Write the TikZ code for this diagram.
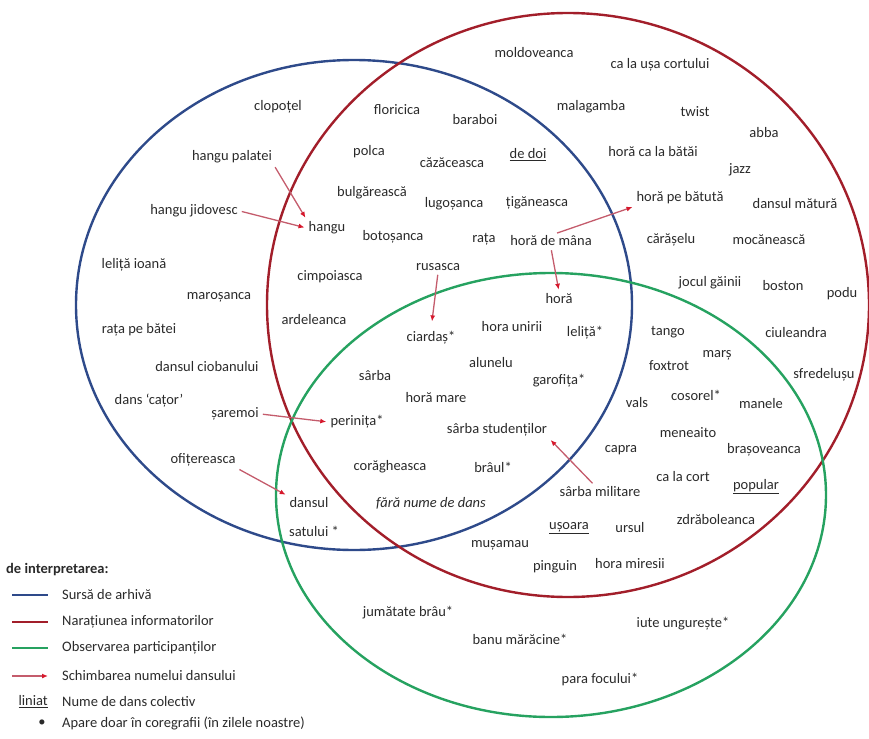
\documentclass[tikz,border=0pt]{standalone}
\usepackage{fontspec}
\setmainfont{Carlito}
\usetikzlibrary{positioning, arrows.meta, calc}
\definecolor{arhiva}{RGB}{46,74,138}
\definecolor{narat}{RGB}{162,30,42}
\definecolor{observ}{RGB}{38,162,96}
\definecolor{schimb}{RGB}{196,92,108}
\definecolor{schimbhead}{RGB}{214,24,44}
\definecolor{textgrey}{RGB}{42,42,42}

\begin{document}
\begin{tikzpicture}[x=1pt, y=-1pt,
    dance/.style={text=textgrey, font=\fontsize{14.5}{16}\selectfont, inner sep=2pt},
    nodance/.style={dance, font=\fontsize{14.5}{16}\selectfont\itshape},
    legendtext/.style={dance, anchor=west},
    arhivaset/.style={draw=arhiva, line width=2.4pt},
    naratset/.style={draw=narat, line width=2.4pt},
    observset/.style={draw=observ, line width=2.4pt},
    rename/.style={draw=schimb, line width=1.3pt, -{Latex[length=6pt, width=5pt, color=schimbhead]}, shorten <=2pt, shorten >=2pt},
]
\useasboundingbox (0,0) rectangle (869,738);

% Sources
\draw[arhivaset] (354,305) ellipse [x radius=278pt, y radius=245pt];
\draw[naratset] (568,305) ellipse [x radius=301pt, y radius=292pt];
\draw[observset] (551,495) ellipse [x radius=275pt, y radius=222pt];

% Archive only
\node[dance] (clopotel) at (278,107) {clopoțel};
\node[dance] (hanguPalatei) at (232,157) {hangu palatei};
\node[dance] (hanguJidovesc) at (194,211) {hangu jidovesc};
\node[dance] (lelitaIoana) at (134,265) {leliță ioană};
\node[dance] (marosanca) at (219,297) {maroșanca};
\node[dance] (rataPeBatei) at (139,330) {rața pe bătei};
\node[dance] (dansulCiobanului) at (207,367) {dansul ciobanului};
\node[dance] (dansCator) at (149,401) {dans ‘cațor’};
\node[dance] (saremoi) at (235,414) {șaremoi};
\node[dance] (ofitereasca) at (203,460) {ofițereasca};

% Archive and informants
\node[dance] (floricica) at (397,110) {floricica};
\node[dance] (baraboi) at (475,120) {baraboi};
\node[dance] (polca) at (369,152) {polca};
\node[dance] (cazaceasca) at (452,163) {căzăceasca};
\node[dance] (deDoi) at (528,155) {\underline{de doi}};
\node[dance] (bulgareasca) at (372,193) {bulgărească};
\node[dance] (lugosanca) at (454,204) {lugoșanca};
\node[dance] (tiganeasca) at (537,203) {țigăneasca};
\node[dance] (hangu) at (327,228) {hangu};
\node[dance] (botosanca) at (393,237) {botoșanca};
\node[dance] (rata) at (484,239) {rața};
\node[dance] (horaDeMana) at (551,241) {horă de mâna};
\node[dance] (cimpoiasca) at (330,277) {cimpoiasca};
\node[dance] (rusasca) at (438,267) {rusasca};
\node[dance] (ardeleanca) at (314,320) {ardeleanca};

% Informants only
\node[dance] (moldoveanca) at (534,53) {moldoveanca};
\node[dance] (caLaUsa) at (660,65) {ca la ușa cortului};
\node[dance] (malagamba) at (591,107) {malagamba};
\node[dance] (twist) at (695,112) {twist};
\node[dance] (abba) at (764,133) {abba};
\node[dance] (horaCaLaBatai) at (653,152) {horă ca la bătăi};
\node[dance] (jazz) at (740,170) {jazz};
\node[dance] (horaPeBatuta) at (680,198) {horă pe bătută};
\node[dance] (dansulMatura) at (795,204) {dansul mătură};
\node[dance] (caraselu) at (671,240) {cărășelu};
\node[dance] (mocaneasca) at (769,240) {mocănească};
\node[dance] (joculGainii) at (710,283) {jocul găinii};
\node[dance] (boston) at (783,286) {boston};
\node[dance] (podu) at (842,294) {podu};
\node[dance] (ciuleandra) at (796,333) {ciuleandra};
\node[dance] (sfredelusu) at (824,375) {sfredelușu};

% All three
\node[dance] (hora) at (559,299) {horă};
\node[dance] (ciardas) at (431,338) {ciardaș*};
\node[dance] (horaUnirii) at (512,327) {hora unirii};
\node[dance] (lelita) at (585,333) {leliță*};
\node[dance] (alunelu) at (491,363) {alunelu};
\node[dance] (sarba) at (375,376) {sârba};
\node[dance] (garofita) at (559,381) {garofița*};
\node[dance] (horaMare) at (436,398) {horă mare};
\node[dance] (perinita) at (357,422) {perinița*};
\node[dance] (sarbaStudentilor) at (497,430) {sârba studenților};
\node[dance] (coragheasca) at (390,467) {corăgheasca};
\node[dance] (braul) at (493,467) {brâul*};
\node[nodance] (faraNume) at (431,503) {fără nume de dans};
\node[dance] (dansul) at (309,503) {dansul};
\node[dance] (satului) at (314,531) {satului *};

% Informants and observation
\node[dance] (tango) at (668,332) {tango};
\node[dance] (mars) at (717,355) {marș};
\node[dance] (foxtrot) at (669,366) {foxtrot};
\node[dance] (vals) at (637,403) {vals};
\node[dance] (cosorel) at (696,395) {cosorel*};
\node[dance] (manele) at (761,404) {manele};
\node[dance] (meneaito) at (688,433) {meneaito};
\node[dance] (capra) at (621,450) {capra};
\node[dance] (brasoveanca) at (764,450) {brașoveanca};
\node[dance] (caLaCort) at (683,477) {ca la cort};
\node[dance] (popular) at (756,487) {\underline{popular}};
\node[dance] (sarbaMilitare) at (600,492) {sârba militare};
\node[dance] (zdraboleanca) at (716,520) {zdrăboleanca};
\node[dance] (usoara) at (569,528) {\underline{ușoara}};
\node[dance] (ursul) at (630,528) {ursul};
\node[dance] (musamau) at (500,545) {mușamau};
\node[dance] (pinguin) at (555,567) {pinguin};
\node[dance] (horaMiresii) at (630,564) {hora miresii};

% Observation only
\node[dance] (jumatateBrau) at (408,613) {jumătate brâu*};
\node[dance] (banuMaracine) at (520,639) {banu mărăcine*};
\node[dance] (iuteUngureste) at (683,624) {iute ungurește*};
\node[dance] (paraFocului) at (600,680) {para focului*};

% Name changes
\draw[rename] (hanguPalatei.south east) -- (hangu.north west);
\draw[rename] (hanguJidovesc.east) -- (hangu.west);
\draw[rename] (horaDeMana.60) -- (horaPeBatuta.south west);
\draw[rename] (horaDeMana.south) -- (hora.north);
\draw[rename, shorten >=8pt] (rusasca.south) -- (ciardas.north);
\draw[rename] (saremoi.east) -- (perinita.west);
\draw[rename] (ofitereasca.south east) -- (dansul.north west);
\draw[rename] (sarbaMilitare.130) -- (sarbaStudentilor.south east);

% Legend
\node[legendtext, font=\fontsize{14.5}{16}\selectfont\bfseries] (legTitle) at (4,570) {de interpretarea:};
\coordinate (legA1) at (12,595); \coordinate (legA2) at (48,595);
\coordinate (legB1) at (12,622); \coordinate (legB2) at (48,622);
\coordinate (legC1) at (12,648); \coordinate (legC2) at (48,648);
\coordinate (legD1) at (12,676); \coordinate (legD2) at (50,676);
\node[legendtext] (legA) at (60,595) {Sursă de arhivă};
\node[legendtext] (legB) at (60,622) {Narațiunea informatorilor};
\node[legendtext] (legC) at (60,648) {Observarea participanților};
\node[legendtext] (legD) at (60,676) {Schimbarea numelui dansului};
\node[dance, anchor=east] (legE0) at (50,702) {\underline{liniat}};
\node[legendtext] (legE) at (60,702) {Nume de dans colectiv};
\node[dance] (legF0) at (42,723) {•};
\node[legendtext] (legF) at (60,723) {Apare doar în coregrafii (în zilele noastre)};
\draw[arhivaset] (legA1) -- (legA2);
\draw[naratset] (legB1) -- (legB2);
\draw[observset] (legC1) -- (legC2);
\draw[rename, shorten <=0pt] (legD1) -- (legD2);

\end{tikzpicture}
\end{document}
